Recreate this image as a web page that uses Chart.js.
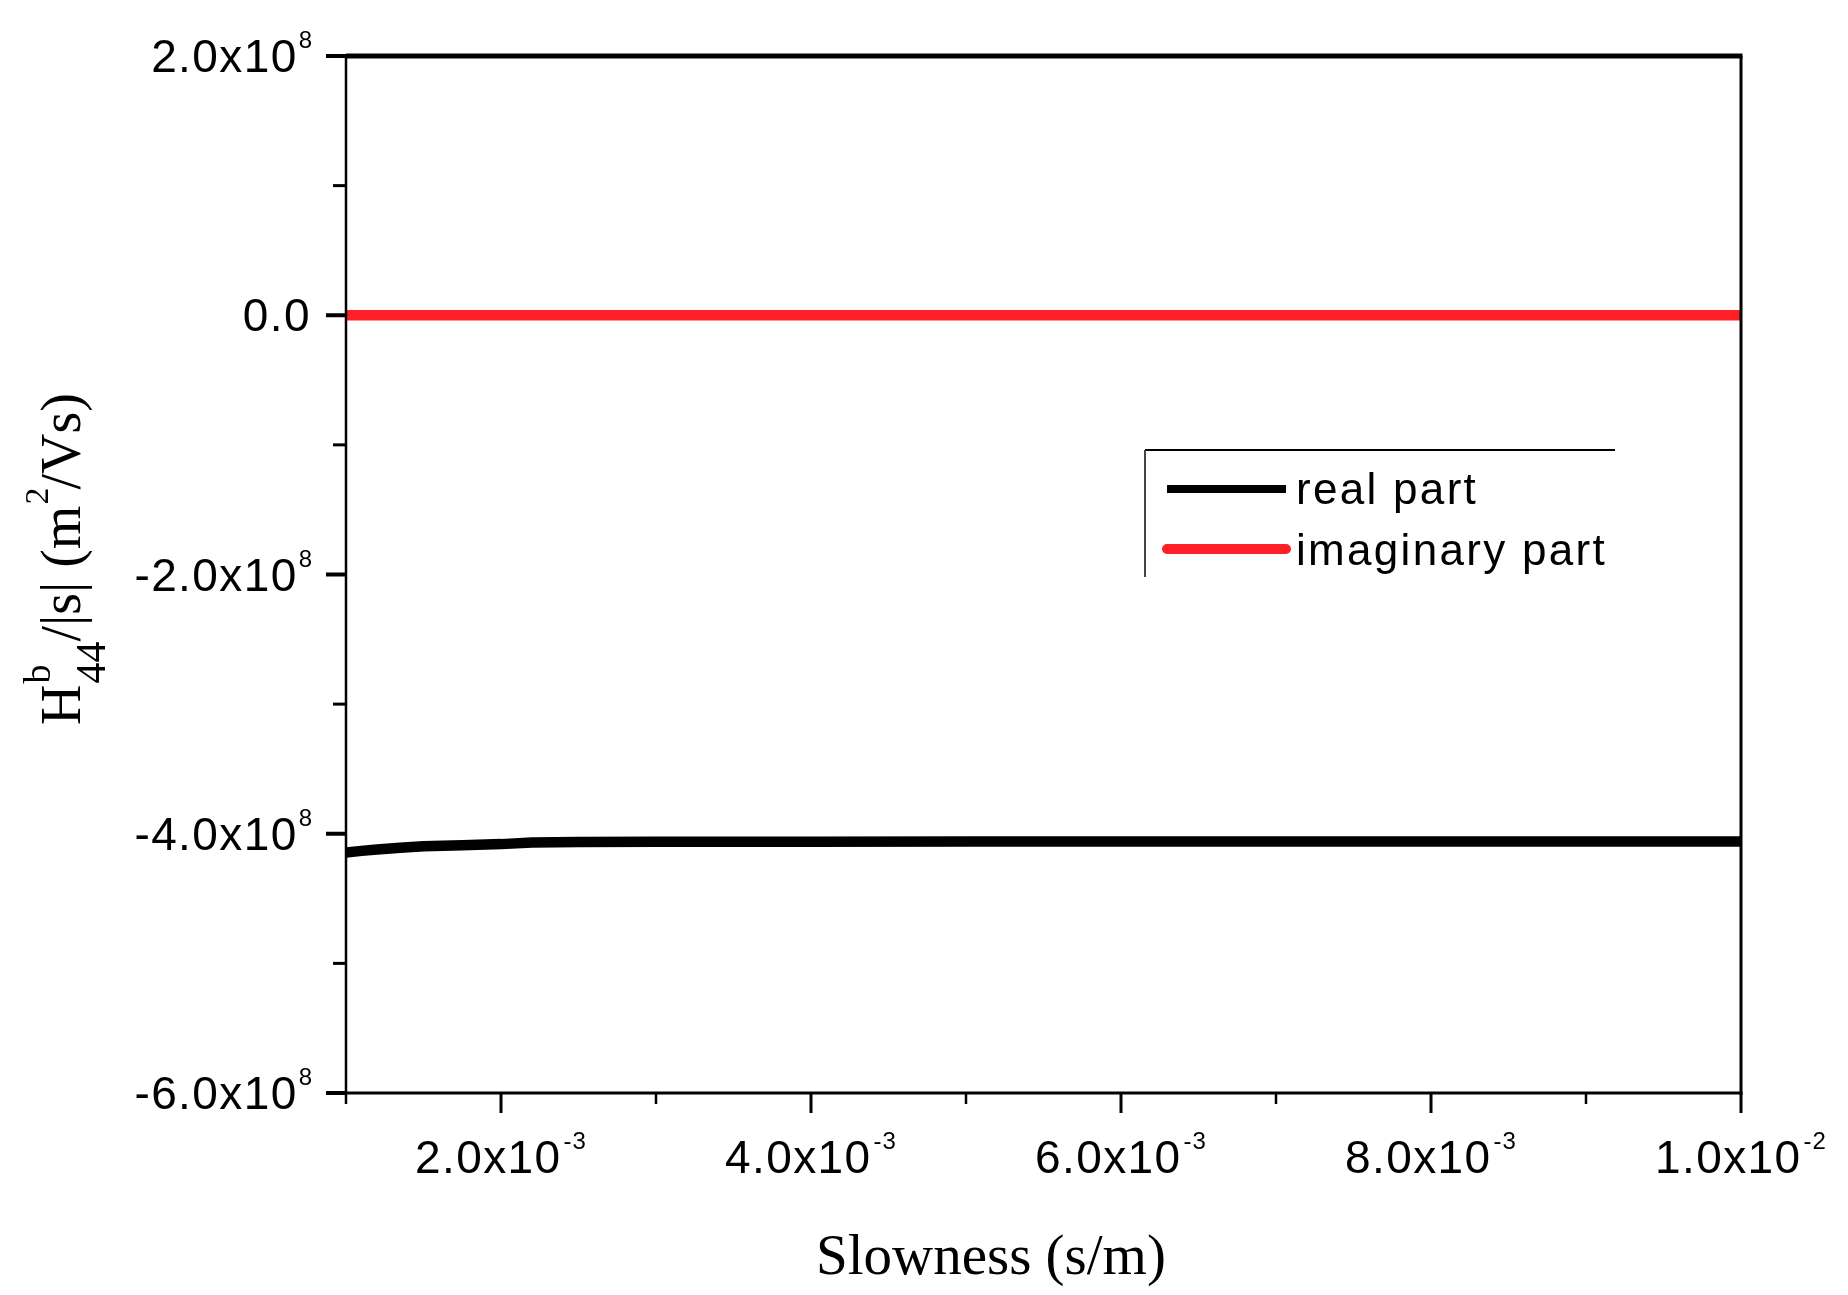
<!DOCTYPE html>
<html>
<head>
<meta charset="utf-8">
<script src="https://cdn.jsdelivr.net/npm/chart.js@4.4.0/dist/chart.umd.min.js"></script>
<style>
  html, body { margin: 0; padding: 0; background: #ffffff; }
  #wrap { width: 1848px; height: 1295px; position: relative; }
</style>
</head>
<body>
<div id="wrap"><canvas id="c" width="1848" height="1295"></canvas></div>
<script>
// ---------- data ----------
const slowness = [1.0e-3, 1.1e-3, 1.2e-3, 1.35e-3, 1.5e-3, 1.75e-3, 2.0e-3, 2.2e-3, 2.5e-3, 3.0e-3, 4.0e-3, 5.0e-3, 6.0e-3, 7.0e-3, 8.0e-3, 9.0e-3, 1.0e-2];
const realPart = [-4.145e8, -4.132e8, -4.122e8, -4.108e8, -4.097e8, -4.088e8, -4.080e8, -4.068e8, -4.064e8, -4.062e8, -4.061e8, -4.060e8, -4.060e8, -4.060e8, -4.060e8, -4.060e8, -4.060e8];
const imaginaryPart = [0, 0, 0, 0, 0, 0, 0, 0, 0, 0, 0, 0, 0, 0, 0, 0, 0];
const seriesLabels = ['real part', 'imaginary part'];

const yMajorTicks = [2e8, 0, -2e8, -4e8, -6e8];
const yMajorBase = ['2.0x10', '0.0', '-2.0x10', '-4.0x10', '-6.0x10'];
const yMajorExp = ['8', '', '8', '8', '8'];
const yMinorTicks = [1e8, -1e8, -3e8, -5e8];

const xMajorTicks = [2e-3, 4e-3, 6e-3, 8e-3, 1e-2];
const xMajorBase = ['2.0x10', '4.0x10', '6.0x10', '8.0x10', '1.0x10'];
const xMajorExp = ['-3', '-3', '-3', '-3', '-2'];
const xMinorTicks = [1e-3, 3e-3, 5e-3, 7e-3, 9e-3];

const xRange = [1e-3, 1e-2];
const yRange = [-6e8, 2e8];

const xTitle = 'Slowness (s/m)';

// ---------- drawing helpers ----------
const SANS = "'Liberation Sans', Arial, sans-serif";
const SERIF = "'Liberation Serif', 'Times New Roman', serif";

function seg(ctx, x1, y1, x2, y2, w, color) {
  ctx.beginPath();
  ctx.lineWidth = w;
  ctx.strokeStyle = color || '#000';
  ctx.moveTo(x1, y1);
  ctx.lineTo(x2, y2);
  ctx.stroke();
}

const axesPlugin = {
  id: 'originAxes',
  afterDatasetsDraw(chart) {
    const ctx = chart.ctx;
    const xs = chart.scales.x, ys = chart.scales.y;
    const { left, right, top, bottom } = chart.chartArea;
    ctx.save();
    ctx.lineCap = 'butt';

    // frame
    seg(ctx, left, top - 2, left, bottom, 2.5);
    seg(ctx, left - 1, bottom, right + 1.5, bottom, 3);
    seg(ctx, left, top, right + 1.5, top, 5);
    seg(ctx, right, top, right, bottom + 1.5, 3);

    // y ticks
    yMajorTicks.forEach(v => { const y = ys.getPixelForValue(v); seg(ctx, left - 20, y, left, y, 4); });
    yMinorTicks.forEach(v => { const y = ys.getPixelForValue(v); seg(ctx, left - 13, y, left, y, 3); });
    // x ticks
    xMajorTicks.forEach(v => { const x = xs.getPixelForValue(v); seg(ctx, x, bottom, x, bottom + 20, 3); });
    xMinorTicks.forEach(v => { const x = xs.getPixelForValue(v); seg(ctx, x, bottom, x, bottom + 11, 2.5); });

    ctx.fillStyle = '#000';
    ctx.textBaseline = 'alphabetic';

    // y tick labels
    const baseFont = '46px ' + SANS;
    const supFont = '24px ' + SANS;
    yMajorTicks.forEach((v, i) => {
      const y = ys.getPixelForValue(v);
      const rightEdge = left - 33;
      let x = rightEdge;
      ctx.letterSpacing = '1px';
      if (yMajorExp[i]) {
        ctx.font = supFont;
        ctx.textAlign = 'right';
        ctx.fillText(yMajorExp[i], x, y - 8);
        x -= ctx.measureText(yMajorExp[i]).width + 1;
      } else {
        x = rightEdge - 2;
      }
      ctx.font = baseFont;
      ctx.letterSpacing = '1.4px';
      ctx.textAlign = 'right';
      ctx.fillText(yMajorBase[i], x, y + 16);
    });

    // x tick labels
    xMajorTicks.forEach((v, i) => {
      const xc = xs.getPixelForValue(v);
      ctx.font = baseFont; ctx.letterSpacing = '1.4px';
      const wb = ctx.measureText(xMajorBase[i]).width;
      ctx.font = supFont; ctx.letterSpacing = '1px';
      const ws = ctx.measureText(xMajorExp[i]).width;
      const total = wb + 2 + ws;
      const x0 = xc - total / 2;
      ctx.textAlign = 'left';
      ctx.font = baseFont; ctx.letterSpacing = '1.4px';
      ctx.fillText(xMajorBase[i], x0, bottom + 80);
      ctx.font = supFont; ctx.letterSpacing = '1px';
      ctx.fillText(xMajorExp[i], x0 + wb + 2, bottom + 56);
    });
    ctx.letterSpacing = '0px';

    // x title
    ctx.font = '57px ' + SERIF;
    ctx.textAlign = 'left';
    ctx.fillText(xTitle, 816, 1274);

    // y title (rotated, rich text)
    ctx.save();
    ctx.translate(80, 725);
    ctx.rotate(-Math.PI / 2);
    ctx.textAlign = 'left';
    let px = 0;
    ctx.font = '56px ' + SERIF;
    ctx.fillText('H', px, 0);
    px += ctx.measureText('H').width + 1;
    ctx.font = '38px ' + SERIF;
    ctx.fillText('b', px, -30);
    ctx.font = '42px ' + SERIF;
    ctx.fillText('44', px, 25);
    px += ctx.measureText('44').width;
    ctx.font = '56px ' + SERIF;
    ctx.fillText('/|s| (m', px, 0);
    px += ctx.measureText('/|s| (m').width + 1;
    ctx.font = '34px ' + SERIF;
    ctx.fillText('2', px, -32);
    px += ctx.measureText('2').width - 2;
    ctx.font = '56px ' + SERIF;
    ctx.fillText('/Vs)', px, 0);
    ctx.restore();

    // legend
    seg(ctx, 1145, 450, 1615, 450, 2, '#000');
    seg(ctx, 1145, 450, 1145, 577, 2, '#444');
    const ds = chart.data.datasets;
    const rows = [{ ly: 489, ty: 504, w: 8 }, { ly: 549, ty: 565, w: 10 }];
    ds.forEach((d, i) => {
      ctx.lineCap = i === 1 ? 'round' : 'butt';
      seg(ctx, 1167, rows[i].ly, 1286, rows[i].ly, rows[i].w, d.borderColor);
      ctx.font = '44px ' + SANS;
      ctx.letterSpacing = '2.3px';
      ctx.fillStyle = '#000';
      ctx.textAlign = 'left';
      ctx.fillText(d.label, 1296, rows[i].ty);
    });
    ctx.letterSpacing = '0px';
    ctx.restore();
  }
};

const toPoints = (xsArr, ysArr) => xsArr.map((x, i) => ({ x: x, y: ysArr[i] }));

new Chart(document.getElementById('c'), {
  type: 'line',
  data: {
    datasets: [
      { label: seriesLabels[0], data: toPoints(slowness, realPart), borderColor: '#000000', borderWidth: 10.5, pointRadius: 0, tension: 0, fill: false },
      { label: seriesLabels[1], data: toPoints(slowness, imaginaryPart), borderColor: '#ff2026', borderWidth: 10.5, pointRadius: 0, tension: 0, fill: false }
    ]
  },
  options: {
    responsive: false,
    animation: false,
    devicePixelRatio: 1,
    layout: { padding: { left: 346, right: 107, top: 56, bottom: 202 } },
    plugins: { legend: { display: false }, tooltip: { enabled: false }, title: { display: false } },
    scales: {
      x: { type: 'linear', min: xRange[0], max: xRange[1], display: false },
      y: { type: 'linear', min: yRange[0], max: yRange[1], display: false }
    }
  },
  plugins: [axesPlugin]
});
</script>
</body>
</html>
